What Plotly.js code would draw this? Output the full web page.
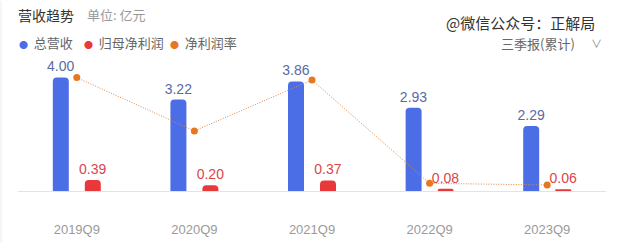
<!DOCTYPE html>
<html>
<head>
<meta charset="utf-8">
<script src="https://cdn.plot.ly/plotly-3.0.1.min.js"></script>
<style>html,body{margin:0;padding:0;background:#fff;}#chart{width:621px;height:243px;}</style>
</head>
<body>
<div id="chart"></div>
<script>
var categories = ['2019Q9', '2020Q9', '2021Q9', '2022Q9', '2023Q9'];
var revenue = [4.00, 3.22, 3.86, 2.93, 2.29];
var netProfit = [0.39, 0.20, 0.37, 0.08, 0.06];
var netMargin = [9.75, 6.21, 9.59, 2.73, 2.62];
var revenueLabels = ['4.00', '3.22', '3.86', '2.93', '2.29'];
var profitLabels = ['0.39', '0.20', '0.37', '0.08', '0.06'];

var FONT = '"Noto Sans CJK SC", "Noto Sans", sans-serif';
var NUMFONT = '"Liberation Sans", Arial, sans-serif';
var BLUE = '#4b6de6', RED = '#e8383b', ORANGE = '#e8781f';

var traces = [
  {
    type: 'bar', name: '总营收', x: categories, y: revenue,
    text: revenueLabels, textposition: 'outside', cliponaxis: false, constraintext: 'none',
    textfont: {color: '#5a6aa6', size: 14, family: NUMFONT},
    marker: {color: BLUE, cornerradius: 4},
    hoverinfo: 'none'
  },
  {
    type: 'bar', name: '归母净利润', x: categories, y: netProfit,
    text: profitLabels, textposition: 'outside', cliponaxis: false, constraintext: 'none',
    textfont: {color: '#d9464a', size: 14, family: NUMFONT},
    marker: {color: RED, cornerradius: 4},
    hoverinfo: 'none'
  },
  {
    type: 'scatter', mode: 'lines+markers', name: '净利润率', x: categories, y: netMargin,
    yaxis: 'y2', cliponaxis: false,
    line: {color: '#e48a45', width: 1, dash: '1px,1.5px'},
    marker: {color: ORANGE, size: 7},
    hoverinfo: 'none'
  }
];

var layout = {
  width: 621, height: 243,
  margin: {l: 18, r: 15, t: 49, b: 52, pad: 0},
  paper_bgcolor: '#fff', plot_bgcolor: '#fff',
  showlegend: false,
  barmode: 'group', bargap: 0.456, bargroupgap: 0.5,
  font: {family: FONT, color: '#999', size: 13},
  xaxis: {
    type: 'category', showgrid: false, zeroline: false,
    showline: true, linecolor: '#e3e3e3', linewidth: 1,
    ticks: 'outside', ticklen: 26, tickcolor: 'rgba(0,0,0,0)',
    tickfont: {color: '#9a9a9a', size: 13, family: NUMFONT}
  },
  yaxis: {range: [0, 5], visible: false, fixedrange: true},
  yaxis2: {range: [2.22, 11.65], overlaying: 'y', visible: false},
  shapes: [
    {type: 'line', xref: 'paper', yref: 'paper', x0: -0.0289, x1: -0.0289, y0: -0.37, y1: 1.34,
     line: {color: '#ececec', width: 1}}
  ],
  annotations: [
    {xref: 'paper', yref: 'paper', x: -0.003, y: 1.24, xanchor: 'left', yanchor: 'middle', showarrow: false,
     text: '营收趋势', font: {size: 14, color: '#333', family: FONT}},
    {xref: 'paper', yref: 'paper', x: 0.114, y: 1.24, xanchor: 'left', yanchor: 'middle', showarrow: false,
     text: '单位: 亿元', font: {size: 13, color: '#999', family: FONT}},
    {xref: 'paper', yref: 'paper', x: -0.002, y: 1.045, xanchor: 'left', yanchor: 'middle', showarrow: false,
     text: '<span style="color:' + BLUE + ';font-size:9px">●</span>  总营收', font: {size: 13, color: '#666', family: FONT}},
    {xref: 'paper', yref: 'paper', x: 0.108, y: 1.045, xanchor: 'left', yanchor: 'middle', showarrow: false,
     text: '<span style="color:' + RED + ';font-size:9px">●</span>  归母净利润', font: {size: 13, color: '#666', family: FONT}},
    {xref: 'paper', yref: 'paper', x: 0.255, y: 1.045, xanchor: 'left', yanchor: 'middle', showarrow: false,
     text: '<span style="color:' + ORANGE + ';font-size:9px">●</span>  净利润率', font: {size: 13, color: '#666', family: FONT}},
    {xref: 'paper', yref: 'paper', x: 0.985, y: 1.19, xanchor: 'right', yanchor: 'middle', showarrow: false,
     text: '@微信公众号：正解局', font: {size: 15, color: '#333', family: FONT}},
    {xref: 'paper', yref: 'paper', x: 0.95, y: 1.04, xanchor: 'right', yanchor: 'middle', showarrow: false,
     text: '三季报(累计)', font: {size: 13, color: '#666', family: FONT}},
    {xref: 'paper', yref: 'paper', x: 0.997, y: 1.045, xanchor: 'right', yanchor: 'middle', showarrow: false,
     text: '∨', font: {size: 11, color: '#888', family: FONT}}
  ]
};

Plotly.newPlot('chart', traces, layout, {displayModeBar: false, staticPlot: true});
</script>
</body>
</html>
